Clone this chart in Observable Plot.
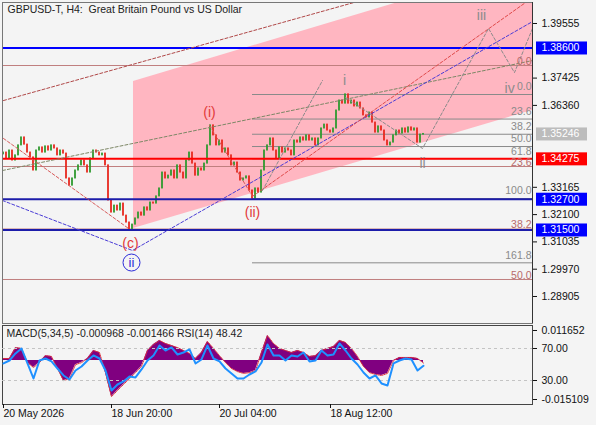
<!DOCTYPE html>
<html><head><meta charset="utf-8">
<script src="https://cdn.jsdelivr.net/npm/d3@7"></script>
<script src="https://cdn.jsdelivr.net/npm/@observablehq/plot@0.6"></script>
<style>
html,body{margin:0;padding:0;background:#f4f4f4;}
#wrap{position:relative;width:596px;height:425px;overflow:hidden;background:#f4f4f4;}
#wrap svg{position:absolute;left:0;}
</style></head><body><div id="wrap"></div>
<script>
// ---------- DATA ----------
const firstOpen = 1.3445;
const closes = [1.3452,1.3429,1.3460,1.3421,1.3441,1.3480,1.3511,1.3483,1.3452,1.3433,
 1.3382,1.3460,1.3472,1.3452,1.3476,1.3460,1.3480,1.3468,1.3441,1.3460,
 1.3448,1.3351,1.3323,1.3351,1.3382,1.3402,1.3421,1.3402,1.3374,1.3429,
 1.3460,1.3452,1.3441,1.3448,1.3402,1.3265,1.3218,1.3245,1.3226,1.3253,
 1.3206,1.3179,1.3152,1.3171,1.3195,1.3218,1.3206,1.3238,1.3226,1.3257,
 1.3253,1.3281,1.3312,1.3374,1.3351,1.3362,1.3382,1.3351,1.3402,1.3374,
 1.3351,1.3421,1.3452,1.3409,1.3362,1.3390,1.3382,1.3409,1.3480,1.3558,
 1.3519,1.3480,1.3499,1.3452,1.3468,1.3441,1.3402,1.3413,1.3374,1.3343,
 1.3351,1.3359,1.3304,1.3272,1.3312,1.3296,1.3382,1.3460,1.3480,1.3507,
 1.3460,1.3429,1.3472,1.3452,1.3468,1.3460,1.3441,1.3499,1.3491,1.3511,
 1.3499,1.3519,1.3499,1.3507,1.3480,1.3507,1.3546,1.3561,1.3538,1.3530,
 1.3546,1.3616,1.3655,1.3643,1.3679,1.3643,1.3655,1.3632,1.3647,1.3624,
 1.3597,1.3589,1.3608,1.3569,1.3530,1.3554,1.3538,1.3499,1.3480,1.3491,
 1.3519,1.3538,1.3526,1.3546,1.3530,1.3550,1.3538,1.3546,1.3491,1.3522,
 1.35246];
// indicator samples (one per two bars)
const macdVals = [0.0008,0.0008,0.0050,0.0047,-0.0008,-0.0027,-0.0008,0.0019,0.0016,-0.0031,
 -0.0078,-0.0070,-0.0016,-0.0008,0.0008,0.0039,0.0031,-0.0047,-0.0140,-0.0116,
 -0.0093,-0.0070,-0.0047,-0.0023,0.0039,0.0062,0.0078,0.0066,0.0058,0.0050,
 0.0039,0.0027,0.0008,0.0031,0.0074,0.0047,0.0019,-0.0008,-0.0031,-0.0043,
 -0.0050,-0.0047,-0.0039,0.0031,0.0097,0.0066,0.0047,0.0039,0.0031,0.0039,
 0.0031,0.0016,0.0019,0.0039,0.0047,0.0054,0.0078,0.0070,0.0047,0.0016,
 -0.0023,-0.0047,-0.0054,-0.0058,-0.0050,0.0000,0.0012,0.0012,0.0012,0.0008,
 -0.000968];
const rsiVals = [51.3,55.0,63.8,70.0,51.3,32.5,55.0,57.5,53.8,45.0,
 36.3,31.3,42.5,47.5,55.0,61.3,57.5,42.5,17.5,25.0,
 28.8,35.0,33.8,43.8,55.0,61.3,73.8,67.5,71.3,62.5,
 65.0,68.8,51.3,56.3,73.8,57.5,53.8,45.0,38.8,32.5,
 32.5,37.5,41.3,52.5,75.0,61.3,61.3,55.0,61.3,60.0,
 65.0,53.8,55.0,67.5,61.3,62.5,76.3,67.5,57.5,50.0,
 40.0,32.5,36.3,26.3,23.8,51.3,55.0,57.5,56.3,42.5,
 48.42];

const priceTicks = [1.39555,1.37425,1.36360,1.33165,1.32100,1.31035,1.29970,1.28905];
const levelPrices = [1.38600,1.34275,1.32700,1.31500];
const currentPrice = 1.35246;
const fibALevels = [0.0,23.6,38.2,50.0,61.8,100.0,161.8];
const fibARange = [1.36785,1.32727];   // 0% , 100%
const fibAStartBar = 83;
const fibBLevels = [0.0,23.6,38.2,50.0];
const fibBRange = [1.37916,1.21221];
const channelBars = [43.33,176.33];
const channelTop = [1.37292,1.41939];
const channelBottom = [1.31557,1.36161];
const trendDarkRed = [[0,1.3655],[116.7,1.4037]];
const trendOlive = [[-0.33,1.3382],[176.33,1.3811]];
const trendBlue = [[-0.33,1.3265],[43,1.3070],[176.33,1.3963]];
const trendRedC = [[0,1.3507],[41.67,1.3156]];
const trendRedI = [[68.67,1.3558],[83,1.3281]];
const trendRedUp = [[83,1.3281],[174,1.4037]];
const wavePath = [[114,1.3667],[139.67,1.3468],[161.67,1.3936],[170.33,1.3764],[176.33,1.3936]];
const waveSteep = [[86.33,1.3304],[106.33,1.3733]];
const redLabels = [["(i)",68.67,1.3608],["(ii)",83,1.3218],["(c)",42.33,1.3097]];
const greyLabels = [["i",113.67,1.3733],["ii",139.67,1.3409],["iii",159.33,1.3987],["iv",168.7,1.3702]];
const circleLabel = ["ii",42.67,1.3023];
const dateIdx = [0,36,72,109];
const dateLabels = ["20 May 2026","18 Jun 20:00","20 Jul 04:00","18 Aug 12:00"];
const macdTicks = [0.011652,-0.015109];
const rsiTicks = [70,30];
const titleText = "GBPUSD-T, H4:  Great Britain Pound vs US Dollar";
const indText = "MACD(5,34,5) -0.000968 -0.001466 RSI(14) 48.42";

// ---------- BUILD ----------
const FONT = "'Liberation Sans', Arial, sans-serif";
const xDomain = [-1/3, 529/3];
const xMax = xDomain[1];
const candles = closes.map((c,i)=>({i, open: i ? closes[i-1] : firstOpen, close: c}));
const channel = channelBars.map((b,k)=>({i:b, lo:channelBottom[k], hi:channelTop[k]}));
const fibPrice = (r,l)=> r[0] - (r[0]-r[1])*l/100;
const pts = a => a.map(([i,p])=>({i,p}));
const macd = macdVals.map((v,j)=>({i:2*j, v}));
const rsi = rsiVals.map((v,j)=>({i:2*j, v}));
const boxes = [
  {p:levelPrices[0], bg:"#0000ff", fg:"#ffffff"},
  {p:currentPrice, bg:"#bcbcbc", fg:"#ffffff"},
  {p:levelPrices[1], bg:"#ff0000", fg:"#ffffff"},
  {p:levelPrices[2], bg:"#0000ff", fg:"#ffffff"},
  {p:levelPrices[3], bg:"#0000ff", fg:"#ffffff"}
];
const levelStroke = ["#0000ff","#ff0000","#1c1caa","#1c1caa"];
const dash = (data, stroke) => Plot.line(pts(data), {x:"i", y:"p", stroke, strokeWidth:1, strokeDasharray:"3,2", clip:true});

const main = Plot.plot({
  width:596, height:324, marginLeft:2, marginRight:64, marginTop:2, marginBottom:1,
  x:{domain:xDomain, axis:null},
  y:{domain:[1.278517,1.403742], axis:null},
  style:{background:"transparent", fontFamily:FONT, fontSize:"10.5px", color:"#111", overflow:"visible"},
  marks:[
    Plot.areaY(channel, {x:"i", y1:"lo", y2:"hi", fill:"#ffb6c1", clip:true}),
    Plot.ruleY(fibBLevels, {y:l=>fibPrice(fibBRange,l), stroke:"#c07f7f", strokeWidth:1}),
    Plot.ruleY(fibALevels, {y:l=>fibPrice(fibARange,l), x1:fibAStartBar, x2:xMax, stroke:"#8a8a8a", strokeWidth:1}),
    Plot.rect(candles, {x1:d=>d.i-0.3, x2:d=>d.i+0.3, y1:"open", y2:"close",
      insetTop:-0.5, insetBottom:-0.5,
      fill:d=>d.close>=d.open ? "#2f9a2f" : "#e8281e"}),
    ...levelPrices.map((p,k)=>Plot.ruleY([p], {stroke:levelStroke[k], strokeWidth:2})),
    dash(trendDarkRed, "#b04848"),
    dash(trendOlive, "#7d8766"),
    dash(trendBlue, "#4a3cd6"),
    dash(trendRedC, "#d85a5a"),
    dash(trendRedI, "#d85a5a"),
    dash(trendRedUp, "#e04a4a"),
    dash(wavePath, "#8a8a8a"),
    dash(waveSteep, "#8a8a8a"),
    Plot.text(fibALevels, {x:()=>xMax, y:l=>fibPrice(fibARange,l), text:l=>l.toFixed(1), dx:-1, dy:-7.5, textAnchor:"end", fill:"#8a8a8a", fontSize:10.5}),
    Plot.text(fibBLevels, {x:()=>xMax, y:l=>fibPrice(fibBRange,l), text:l=>l.toFixed(1), dx:-1, dy:-4, textAnchor:"end", fill:"#b86a6a", fontSize:10.5}),
    Plot.text(redLabels, {x:d=>d[1], y:d=>d[2], text:d=>d[0], fill:"#e23a3a", fontSize:14}),
    Plot.text(greyLabels, {x:d=>d[1], y:d=>d[2], text:d=>d[0], fill:"#8c8c8c", fontSize:14}),
    Plot.dot([circleLabel], {x:d=>d[1], y:d=>d[2], r:8.5, stroke:"#2a2ad8", fill:"none", strokeWidth:1}),
    Plot.text([circleLabel], {x:d=>d[1], y:d=>d[2], text:d=>d[0], fill:"#2a2ad8", fontSize:13}),
    Plot.frame({stroke:"#777"}),
    Plot.ruleX([xMax], {stroke:"#333"}),
    Plot.axisY({anchor:"right", label:null, ticks:priceTicks, tickFormat:d=>d.toFixed(5), tickSize:4, tickPadding:5, fontSize:10.5, fill:"#111"}),
    Plot.rect(boxes, {x1:()=>xMax, x2:()=>xMax, y1:"p", y2:"p", insetLeft:4, insetRight:-55, insetTop:-6, insetBottom:-7, fill:"bg"}),
    Plot.text(boxes, {x:()=>xMax, y:"p", text:d=>d.p.toFixed(5), dx:9, textAnchor:"start", fill:"fg", fontSize:10.5}),
    Plot.text([titleText], {frameAnchor:"top-left", text:d=>d, dx:5, dy:3, textAnchor:"start", lineAnchor:"top", fill:"#222", fontSize:10.5})
  ]
});
main.style.top = "0px";

const sub = Plot.plot({
  width:596, height:101, marginLeft:2, marginRight:64, marginTop:1, marginBottom:21,
  x:{domain:xDomain, axis:null},
  y:{domain:[-0.017048,0.013591], axis:null},
  style:{background:"transparent", fontFamily:FONT, fontSize:"10.5px", color:"#111", overflow:"visible"},
  marks:[
    Plot.areaY(macd, {x:"i", y:"v", fill:"#800080"}),
    Plot.lineY(macd, {x:"i", y:"v", stroke:"#e0303a", strokeWidth:1, strokeDasharray:"1,1"}),
    Plot.frame({stroke:"#444"}),
    Plot.axisY({anchor:"right", label:null, ticks:macdTicks, tickFormat:d=>d.toFixed(6), tickSize:4, tickPadding:5, fontSize:10.5, fill:"#111"}),
    Plot.axisX({anchor:"bottom", label:null, ticks:dateIdx, tickFormat:d=>dateLabels[dateIdx.indexOf(d)], tickSize:4, tickPadding:1, textAnchor:"start", fontSize:10.5, fill:"#111"}),
    Plot.text([indText], {frameAnchor:"top-left", text:d=>d, dx:4, dy:4, textAnchor:"start", lineAnchor:"top", fill:"#222", fontSize:10.5})
  ]
});
sub.style.top = "324px";

const rsiPlot = Plot.plot({
  width:596, height:101, marginLeft:2, marginRight:64, marginTop:1, marginBottom:21,
  x:{domain:xDomain, axis:null},
  y:{domain:[0,98.75], axis:null},
  style:{background:"transparent", fontFamily:FONT, fontSize:"10.5px", color:"#111", overflow:"visible"},
  marks:[
    Plot.ruleY(rsiTicks, {stroke:"#c4c4c4", strokeDasharray:"3,3"}),
    Plot.lineY(rsi, {x:"i", y:"v", stroke:"#1e90ff", strokeWidth:2}),
    Plot.axisY({anchor:"right", label:null, ticks:rsiTicks, tickFormat:d=>d.toFixed(2), tickSize:4, tickPadding:5, fontSize:10.5, fill:"#111"})
  ]
});
rsiPlot.style.top = "324px";

const wrap = document.getElementById("wrap");
wrap.appendChild(main);
wrap.appendChild(sub);
wrap.appendChild(rsiPlot);
</script></body></html>
